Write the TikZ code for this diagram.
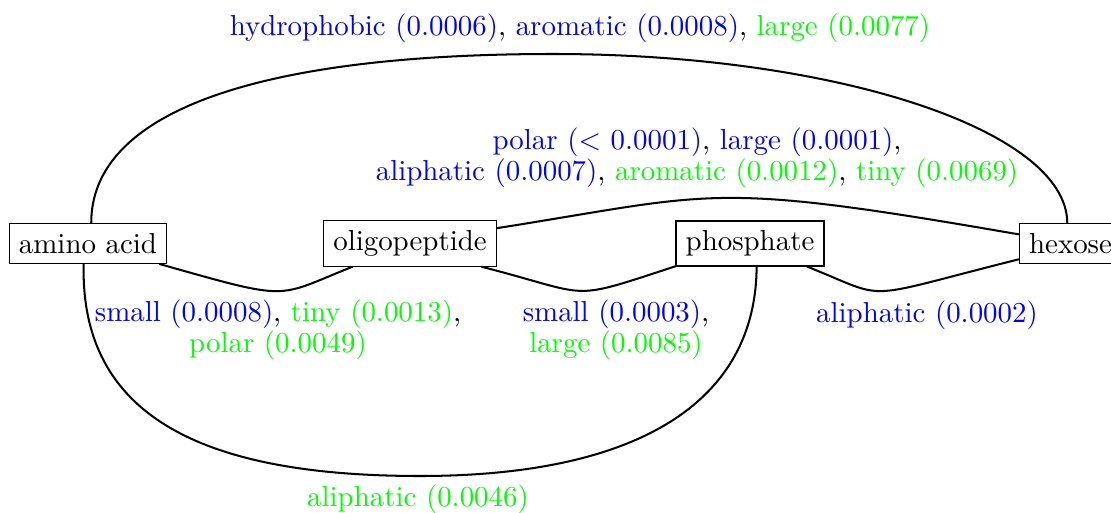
\documentclass[tikz,border=0pt]{standalone}
\begin{document}
\begin{tikzpicture}[x=0.346pt,y=-0.346pt,
  box/.style={draw,rectangle,inner sep=0.3333em},
  link/.style={line width=0.7pt},
  lbl/.style={align=center,inner sep=0pt}]
\useasboundingbox (0,0) rectangle (1111,513);
\node[box] (amino) at (88,243.5) {amino acid};
\node[box] (oligo) at (410,243.5) {oligopeptide};
\node[box] (phos) at (750,243.5) {phosphate};
\node[box] (hexose) at (1070.5,243.5) {hexose};

\draw[link] (amino.81) .. controls (91,113.5) and (252.7,54) .. (553,54)
  .. controls (836,54) and (1067,130.5) .. (hexose.99);
\draw[link] (oligo.10) .. controls (717.6,193.4) and (707.4,180.3) .. (hexose.170);
\draw[link] (amino.-16) .. controls (293,301.7) and (274.4,297.8) .. (oligo.-158);
\draw[link] (oligo.-18) .. controls (595,295.8) and (565.5,302.1) .. (phos.-163);
\draw[link] (phos.-22) .. controls (892,300.5) and (855,300.3) .. (hexose.-163);
\draw[link] (amino.-102) .. controls (80,416) and (202,476) .. (420,476)
  .. controls (638,476) and (756,402) .. (phos.-74);

\node[lbl] (lA) at (580,28) {\textcolor{blue}{hydrophobic (0.0006)}, \textcolor{blue}{aromatic (0.0008)}, \textcolor{green}{large (0.0077)}};
\node[lbl] (lB) at (697,157.5) {\textcolor{blue}{polar ($<$ 0.0001)}, \textcolor{blue}{large (0.0001)},\\[-1.4pt]
  \textcolor{blue}{aliphatic (0.0007)}, \textcolor{green}{aromatic (0.0012)}, \textcolor{green}{tiny (0.0069)}};
\node[lbl] (lC) at (278,330) {\textcolor{blue}{small (0.0008)}, \textcolor{green}{tiny (0.0013)},\\[-1.4pt]
  \textcolor{green}{polar (0.0049)}};
\node[lbl] (lD) at (616,330) {\textcolor{blue}{small (0.0003)},\\[-1.4pt] \textcolor{green}{large (0.0085)}};
\node[lbl] (lE) at (927,315) {\textcolor{blue}{aliphatic (0.0002)}};
\node[lbl] (lF) at (418,499) {\textcolor{green}{aliphatic (0.0046)}};
\end{tikzpicture}
\end{document}
